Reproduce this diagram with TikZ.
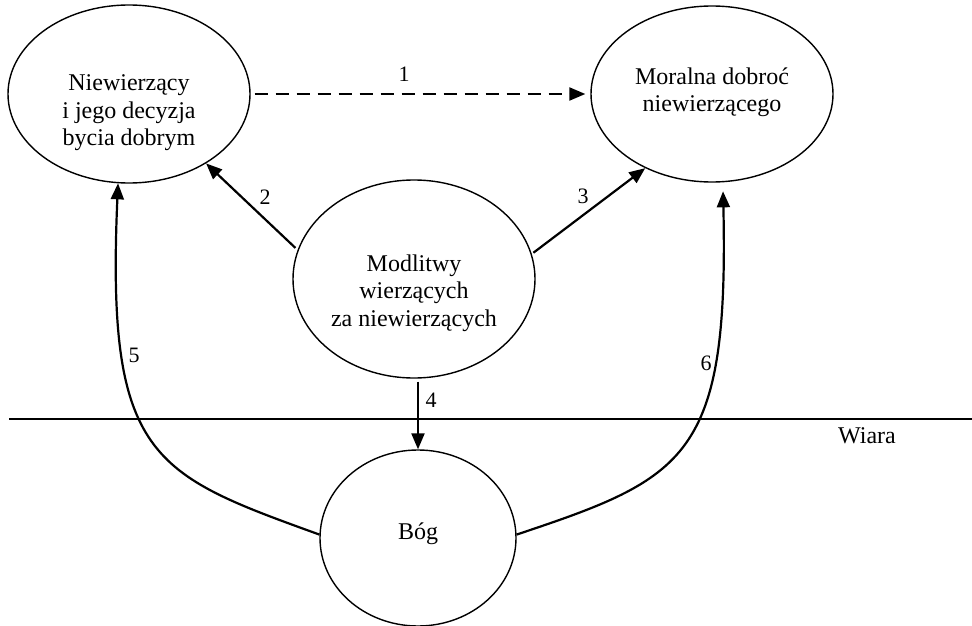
\documentclass[tikz,border=0pt]{standalone}
\usepackage{fontspec}
\setmainfont{Liberation Serif}
\usetikzlibrary{shapes.geometric,arrows.meta}
\begin{document}
\begin{tikzpicture}[x=1pt,y=-1pt,
  ell/.style={draw,ellipse,line width=1.4pt,inner sep=0pt},
  txt/.style={align=center,font=\fontsize{24}{27.5}\selectfont,inner sep=0pt},
  num/.style={font=\fontsize{22}{26}\selectfont,inner sep=0pt},
  arr/.style={line width=2.2pt,-{Triangle[length=16pt,width=13pt]}},
  ]
\useasboundingbox (0,0) rectangle (972,626);
% ellipses
\node[ell,minimum width=242pt,minimum height=178pt] (L) at (129,94) {};
\node[ell,minimum width=242pt,minimum height=176pt] (R) at (712,94) {};
\node[ell,minimum width=242pt,minimum height=198pt] (M) at (414,279) {};
\node[ell,minimum width=196pt,minimum height=176pt] (B) at (418,538) {};
% texts
\node[txt] (Lt) at (129,113) {Niewierzący\\ i jego decyzja\\bycia dobrym};
\node[txt] (Rt) at (712,92) {Moralna dobroć\\niewierzącego};
\node[txt] (Mt) at (414,293) {Modlitwy\\wierzących\\ za niewierzących};
\node[txt] (Bt) at (418,534) {Bóg};
% faith line
\coordinate (h1) at (9,419);
\coordinate (h2) at (972,419);
\draw[line width=1.6pt] (h1) -- (h2);
\node[txt] (W) at (867,436) {Wiara};
% arrows
\draw[arr,dash pattern=on 13pt off 8pt,shorten <=4pt,shorten >=5pt] (L.east) -- (R.west);
\draw[arr,shorten <=3pt] (M.166) -- (L.-42.7);
\draw[arr,shorten <=2pt] (M.12) -- (R.-132.5);
\draw[arr,shorten <=3pt] (B.north |- M.south) -- (B.north);
\draw[arr] (B.178) .. controls (152,474) and (106,458) .. (L.-97.5);
\draw[arr,shorten >=9pt] (B.2) .. controls (686,478) and (729,458) .. (R.-83);
% labels
\node[num] (n1) at (404,74) {1};
\node[num] (n2) at (265,197) {2};
\node[num] (n3) at (583,196) {3};
\node[num] (n4) at (431,400) {4};
\node[num] (n5) at (134,355) {5};
\node[num] (n6) at (706,363) {6};
\end{tikzpicture}
\end{document}
